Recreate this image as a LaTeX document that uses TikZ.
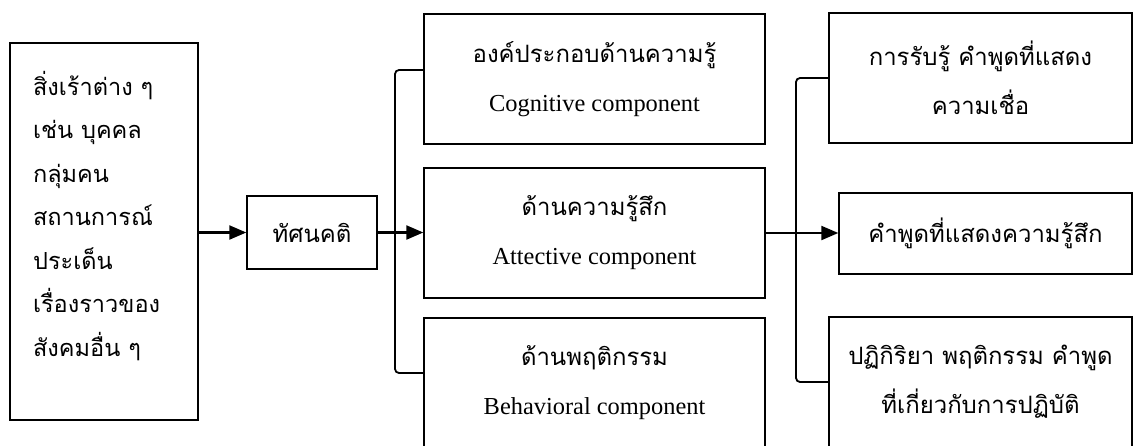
\documentclass[tikz,border=0pt]{standalone}
\usepackage{fontspec}
\setmainfont{Liberation Serif}
\newfontfamily\thaifont[Script=Thai, Scale=0.98]{Loma}
\usetikzlibrary{arrows.meta}

\begin{document}
\begin{tikzpicture}[x=0.5pt, y=-0.5pt,
  box/.style={draw, line width=0.7pt, inner sep=0pt, align=center},
  arr/.style={-{Triangle[length=8.5pt, width=7pt]}, line width=1.1pt},
  brk/.style={line width=0.9pt, rounded corners=2pt},
  txt/.style={font=\fontsize{12.2}{24.5}\selectfont}]

  \useasboundingbox (0,0) rectangle (1133,445);

  % --- stimuli ---
  \node[box, minimum width=94pt, minimum height=188.5pt] (stim) at (104,231.5) {};
  \node[anchor=west, align=left, font=\fontsize{12}{21.75}\selectfont] (stimtxt) at (26,216)
    {\thaifont สิ่งเร้าต่าง ๆ\\ \thaifont เช่น บุคคล\\ \thaifont กลุ่มคน\\ \thaifont สถานการณ์\\
     \thaifont ประเด็น\\ \thaifont เรื่องราวของ\\ \thaifont สังคมอื่น ๆ};

  % --- attitude ---
  \node[box, txt, minimum width=65pt, minimum height=36.5pt] (att) at (312,232.5) {\thaifont ทัศนคติ};

  % --- components ---
  \node[box, txt, minimum width=170.5pt, minimum height=65pt] (mcog) at (594.5,79)
    {{\thaifont องค์ประกอบด้านความรู้}\\ Cognitive component};
  \node[box, txt, minimum width=170.5pt, minimum height=65pt] (maff) at (594.5,233)
    {{\thaifont ด้านความรู้สึก}\\ Attective component};
  \node[box, txt, minimum width=170.5pt, minimum height=65pt] (mbeh) at (594.5,383)
    {{\thaifont ด้านพฤติกรรม}\\ Behavioral component};

  % --- responses ---
  \node[box, txt, minimum width=151.5pt, minimum height=65pt] (rcog) at (980.5,78)
    {{\thaifont การรับรู้ คำพูดที่แสดง}\\ {\thaifont ความเชื่อ}};
  \node[box, txt, minimum width=146.5pt, minimum height=40.5pt] (raff) at (985.5,233.5)
    {\thaifont คำพูดที่แสดงความรู้สึก};
  \node[box, txt, minimum width=151.5pt, minimum height=65pt] (rbeh) at (980.5,382)
    {{\thaifont ปฏิกิริยา พฤติกรรม คำพูด}\\ {\thaifont ที่เกี่ยวกับการปฏิบัติ}};

  % brackets
  \coordinate (lbar) at (395,233);
  \coordinate (rbar) at (796,233);
  \draw[brk] ([yshift=4.5pt]mcog.west) -| (lbar) |- ([yshift=5pt]mbeh.west);
  \draw[brk] (rcog.west) -| (rbar) |- (rbeh.west);

  % arrows
  \draw[arr] (stim.east |- att.west) -- (att.west);
  \draw[arr] (att.east) -- (att.east -| maff.west);
  \draw[arr] (maff.east) -- (maff.east -| raff.west);
\end{tikzpicture}
\end{document}
